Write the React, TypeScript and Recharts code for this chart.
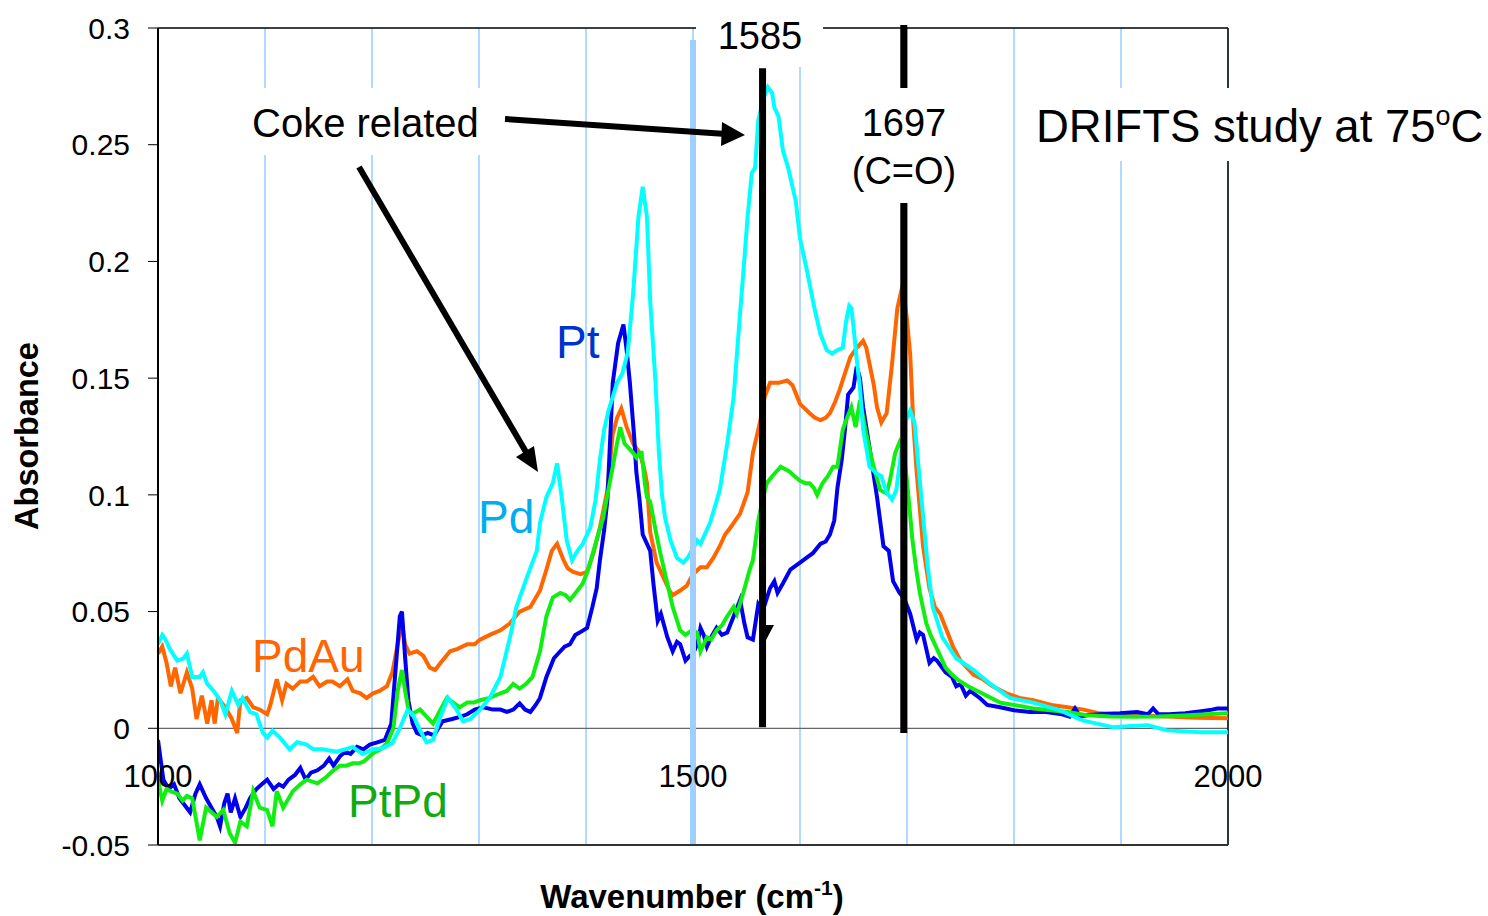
import { CartesianGrid, Line, LineChart, ReferenceLine, XAxis, YAxis } from "recharts";

const FONT = "'Liberation Sans', Arial, sans-serif";

const Y_TICKS = [-0.05, 0, 0.05, 0.1, 0.15, 0.2, 0.25, 0.3];
const GRID_TICKS = [1000, 1100, 1200, 1300, 1400, 1500, 1600, 1700, 1800, 1900, 2000];
const LABELED_TICKS = [1000, 1500, 2000];

// [wavenumber cm-1, absorbance]
const PT: [number, number][] = [
  [1000, -0.005], [1005, -0.022], [1010, -0.026], [1015, -0.024], [1020, -0.03], [1025, -0.033],
  [1030, -0.036], [1035, -0.028], [1039, -0.024], [1045, -0.03], [1050, -0.034], [1055, -0.038],
  [1058, -0.042], [1062, -0.032], [1065, -0.028], [1068, -0.036], [1072, -0.03], [1077, -0.038],
  [1082, -0.034], [1086, -0.03], [1092, -0.026], [1097, -0.024], [1102, -0.022], [1108, -0.026],
  [1113, -0.024], [1117, -0.025], [1122, -0.022], [1128, -0.02], [1133, -0.017], [1138, -0.022],
  [1143, -0.019], [1149, -0.018], [1155, -0.016], [1160, -0.013], [1164, -0.016], [1170, -0.012],
  [1175, -0.01], [1180, -0.011], [1186, -0.008], [1192, -0.009], [1198, -0.007], [1205, -0.006],
  [1212, -0.005], [1218, 0.002], [1222, 0.025], [1226, 0.048], [1228, 0.05], [1231, 0.03],
  [1234, 0.012], [1238, 0.002], [1242, -0.002], [1247, -0.003], [1252, -0.002], [1258, -0.003],
  [1266, 0.003], [1275, 0.004], [1283, 0.005], [1289, 0.006], [1296, 0.008], [1304, 0.009],
  [1313, 0.008], [1320, 0.008], [1326, 0.007], [1332, 0.008], [1338, 0.0107], [1343, 0.008],
  [1348, 0.007], [1353, 0.01], [1357, 0.013], [1363, 0.022], [1370, 0.03], [1376, 0.033],
  [1380, 0.035], [1385, 0.036], [1390, 0.04], [1394, 0.041], [1401, 0.043], [1406, 0.052],
  [1410, 0.06], [1413, 0.072], [1417, 0.085], [1420, 0.098], [1425, 0.148], [1430, 0.165],
  [1435, 0.173], [1438, 0.162], [1441, 0.148], [1445, 0.125], [1447, 0.11], [1450, 0.098],
  [1453, 0.083], [1457, 0.079], [1460, 0.076], [1463, 0.062], [1467, 0.046], [1470, 0.049],
  [1473, 0.044], [1476, 0.039], [1481, 0.033], [1485, 0.037], [1488, 0.036], [1493, 0.029],
  [1497, 0.031], [1500, 0.032], [1504, 0.036], [1507, 0.043], [1510, 0.04], [1513, 0.035],
  [1517, 0.039], [1522, 0.043], [1527, 0.04], [1532, 0.041], [1538, 0.048], [1544, 0.055],
  [1548, 0.045], [1551, 0.039], [1556, 0.038], [1561, 0.053], [1565, 0.05], [1572, 0.06],
  [1576, 0.063], [1579, 0.058], [1584, 0.062], [1591, 0.068], [1600, 0.071], [1606, 0.073],
  [1612, 0.075], [1619, 0.079], [1624, 0.08], [1628, 0.083], [1632, 0.089], [1635, 0.103],
  [1639, 0.115], [1642, 0.128], [1645, 0.143], [1650, 0.146], [1653, 0.155], [1656, 0.15],
  [1659, 0.1375], [1665, 0.12], [1672, 0.099], [1678, 0.078], [1683, 0.076], [1687, 0.063],
  [1693, 0.058], [1697, 0.056], [1703, 0.049], [1709, 0.038], [1712, 0.041], [1715, 0.04],
  [1721, 0.028], [1725, 0.03], [1728, 0.029], [1736, 0.024], [1742, 0.022], [1746, 0.018],
  [1750, 0.019], [1755, 0.014], [1759, 0.016], [1768, 0.013], [1775, 0.01], [1787, 0.009],
  [1800, 0.0077], [1815, 0.007], [1830, 0.007], [1845, 0.006], [1852, 0.005], [1857, 0.0085],
  [1862, 0.005], [1868, 0.0056], [1880, 0.006], [1899, 0.0064], [1915, 0.007], [1925, 0.006],
  [1930, 0.0085], [1935, 0.006], [1945, 0.006], [1960, 0.0064], [1975, 0.0073], [1985, 0.008],
  [1990, 0.0085], [2000, 0.0085],
];

const PTPD: [number, number][] = [
  [1000, -0.022], [1004, -0.031], [1008, -0.026], [1012, -0.027], [1018, -0.028], [1023, -0.031],
  [1027, -0.029], [1032, -0.03], [1039, -0.048], [1045, -0.034], [1050, -0.036], [1055, -0.038],
  [1061, -0.035], [1067, -0.045], [1072, -0.049], [1077, -0.04], [1083, -0.042], [1089, -0.027],
  [1095, -0.034], [1102, -0.035], [1107, -0.042], [1111, -0.027], [1117, -0.034], [1126, -0.027],
  [1133, -0.024], [1139, -0.022], [1149, -0.0236], [1157, -0.021], [1164, -0.018], [1170, -0.016],
  [1176, -0.016], [1182, -0.015], [1188, -0.015], [1193, -0.014], [1201, -0.0107], [1208, -0.009],
  [1214, -0.0064], [1220, 0], [1224, 0.016], [1228, 0.025], [1231, 0.016], [1234, 0.008],
  [1237, 0.006], [1245, 0.008], [1251, 0.005], [1257, 0.002], [1264, 0.008], [1270, 0.013],
  [1276, 0.011], [1282, 0.009], [1289, 0.011], [1295, 0.011], [1301, 0.012], [1310, 0.013],
  [1320, 0.015], [1326, 0.016], [1332, 0.019], [1338, 0.017], [1344, 0.019], [1350, 0.022],
  [1357, 0.033], [1363, 0.048], [1369, 0.056], [1376, 0.058], [1381, 0.057], [1385, 0.055],
  [1392, 0.059], [1397, 0.062], [1402, 0.068], [1407, 0.076], [1412, 0.084], [1416, 0.09],
  [1420, 0.1], [1425, 0.112], [1429, 0.122], [1432, 0.129], [1436, 0.122], [1440, 0.12],
  [1444, 0.118], [1447, 0.116], [1450, 0.118], [1452, 0.118], [1455, 0.105], [1457, 0.099],
  [1460, 0.097], [1465, 0.085], [1469, 0.076], [1476, 0.062], [1481, 0.052], [1488, 0.042],
  [1493, 0.04], [1499, 0.042], [1504, 0.041], [1507, 0.033], [1513, 0.039], [1517, 0.038],
  [1522, 0.042], [1527, 0.044], [1532, 0.048], [1538, 0.052], [1541, 0.049], [1547, 0.058],
  [1553, 0.068], [1556, 0.072], [1561, 0.089], [1565, 0.098], [1569, 0.105], [1574, 0.108],
  [1582, 0.112], [1590, 0.11], [1595, 0.108], [1600, 0.106], [1605, 0.105], [1609, 0.105],
  [1613, 0.103], [1616, 0.1], [1621, 0.105], [1626, 0.108], [1631, 0.112], [1635, 0.112],
  [1640, 0.128], [1644, 0.133], [1648, 0.1375], [1652, 0.129], [1656, 0.1405], [1662, 0.126],
  [1668, 0.1135], [1675, 0.102], [1681, 0.1006], [1684, 0.106], [1689, 0.118], [1693, 0.1225],
  [1697, 0.118], [1700, 0.106], [1705, 0.081], [1709, 0.067], [1712, 0.058], [1718, 0.045],
  [1722, 0.04], [1727, 0.035], [1731, 0.031], [1736, 0.026], [1742, 0.023], [1748, 0.0206],
  [1757, 0.018], [1770, 0.015], [1787, 0.011], [1800, 0.01], [1818, 0.0085], [1850, 0.007],
  [1868, 0.0056], [1890, 0.005], [1911, 0.0049], [1935, 0.005], [1958, 0.0055], [1980, 0.006],
  [2000, 0.0064],
];

const PDAU: [number, number][] = [
  [1000, 0.032], [1004, 0.035], [1008, 0.028], [1012, 0.018], [1016, 0.026], [1021, 0.015],
  [1027, 0.024], [1032, 0.017], [1036, 0.004], [1041, 0.014], [1046, 0.002], [1050, 0.012],
  [1053, 0.002], [1056, 0.013], [1063, 0.009], [1069, 0.004], [1074, -0.002], [1077, 0.012],
  [1083, 0.013], [1089, 0.009], [1095, 0.008], [1102, 0.006], [1105, 0.01], [1111, 0.021],
  [1116, 0.012], [1120, 0.019], [1126, 0.017], [1133, 0.02], [1139, 0.02], [1145, 0.022],
  [1151, 0.018], [1158, 0.02], [1163, 0.02], [1170, 0.018], [1177, 0.021], [1182, 0.016],
  [1189, 0.015], [1195, 0.013], [1201, 0.015], [1207, 0.016], [1214, 0.018], [1219, 0.024],
  [1224, 0.036], [1228, 0.045], [1231, 0.036], [1235, 0.032], [1242, 0.033], [1248, 0.031],
  [1254, 0.026], [1259, 0.025], [1264, 0.028], [1273, 0.033], [1280, 0.034], [1289, 0.036],
  [1296, 0.036], [1301, 0.038], [1310, 0.04], [1320, 0.042], [1329, 0.045], [1338, 0.05],
  [1348, 0.052], [1357, 0.059], [1363, 0.068], [1368, 0.076], [1373, 0.079], [1379, 0.072],
  [1383, 0.0685], [1388, 0.067], [1395, 0.066], [1401, 0.067], [1407, 0.075], [1413, 0.086],
  [1420, 0.102], [1425, 0.126], [1429, 0.133], [1433, 0.137], [1438, 0.129], [1444, 0.122],
  [1450, 0.118], [1454, 0.112], [1457, 0.105], [1460, 0.084], [1466, 0.071], [1472, 0.065],
  [1478, 0.059], [1481, 0.057], [1488, 0.059], [1494, 0.061], [1500, 0.066], [1507, 0.069],
  [1513, 0.069], [1519, 0.073], [1525, 0.078], [1530, 0.083], [1535, 0.086], [1544, 0.092],
  [1551, 0.101], [1556, 0.118], [1563, 0.132], [1567, 0.142], [1572, 0.148], [1580, 0.148],
  [1588, 0.149], [1593, 0.147], [1600, 0.139], [1609, 0.135], [1614, 0.133], [1619, 0.132],
  [1624, 0.133], [1628, 0.135], [1633, 0.14], [1637, 0.145], [1642, 0.152], [1647, 0.159],
  [1653, 0.163], [1659, 0.166], [1662, 0.163], [1665, 0.156], [1669, 0.147], [1672, 0.1375],
  [1676, 0.131], [1681, 0.135], [1686, 0.156], [1691, 0.18], [1695, 0.188], [1697, 0.186],
  [1700, 0.175], [1703, 0.16], [1706, 0.13], [1709, 0.11], [1715, 0.078], [1721, 0.06],
  [1726, 0.052], [1731, 0.049], [1737, 0.042], [1743, 0.035], [1750, 0.029], [1756, 0.026],
  [1762, 0.023], [1771, 0.021], [1780, 0.018], [1793, 0.015], [1805, 0.013], [1818, 0.012],
  [1835, 0.01], [1850, 0.009], [1865, 0.008], [1880, 0.0064], [1900, 0.006], [1920, 0.0055],
  [1943, 0.005], [1970, 0.0045], [2000, 0.0043],
];

const PD: [number, number][] = [
  [1000, 0.036], [1004, 0.04], [1007, 0.038], [1011, 0.034], [1018, 0.029], [1024, 0.03],
  [1027, 0.032], [1032, 0.022], [1039, 0.022], [1042, 0.024], [1046, 0.019], [1052, 0.016],
  [1058, 0.012], [1063, 0.006], [1069, 0.016], [1075, 0.01], [1079, 0.013], [1086, 0.007],
  [1092, 0.006], [1098, -0.002], [1102, -0.004], [1107, -0.001], [1114, -0.004], [1123, -0.009],
  [1130, -0.006], [1139, -0.007], [1145, -0.009], [1154, -0.009], [1167, -0.01], [1175, -0.009],
  [1182, -0.008], [1191, -0.011], [1201, -0.009], [1210, -0.0086], [1219, -0.0064], [1226, 0],
  [1233, 0.0077], [1238, 0.006], [1245, -0.001], [1251, -0.006], [1257, -0.005], [1264, 0.005],
  [1271, 0.013], [1279, 0.008], [1285, 0.003], [1292, 0.004], [1301, 0.008], [1310, 0.013],
  [1320, 0.022], [1329, 0.039], [1335, 0.052], [1345, 0.065], [1354, 0.076], [1357, 0.088],
  [1363, 0.099], [1369, 0.105], [1373, 0.1135], [1377, 0.1], [1382, 0.0805], [1387, 0.072],
  [1392, 0.076], [1397, 0.079], [1404, 0.086], [1409, 0.098], [1413, 0.115], [1417, 0.128],
  [1421, 0.136], [1429, 0.148], [1434, 0.152], [1439, 0.161], [1444, 0.186], [1449, 0.219],
  [1453, 0.232], [1457, 0.219], [1460, 0.183], [1465, 0.148], [1468, 0.119], [1471, 0.1],
  [1474, 0.09], [1479, 0.0805], [1485, 0.073], [1491, 0.071], [1495, 0.073], [1500, 0.077],
  [1504, 0.0805], [1507, 0.079], [1516, 0.088], [1525, 0.102], [1532, 0.122], [1538, 0.142],
  [1544, 0.178], [1547, 0.195], [1551, 0.219], [1555, 0.238], [1558, 0.24], [1561, 0.2605],
  [1566, 0.27], [1570, 0.2746], [1574, 0.272], [1576, 0.266], [1580, 0.262], [1584, 0.2476],
  [1589, 0.24], [1596, 0.226], [1600, 0.21], [1607, 0.195], [1613, 0.181], [1619, 0.169],
  [1625, 0.162], [1630, 0.1605], [1635, 0.162], [1640, 0.163], [1643, 0.174], [1646, 0.181],
  [1648, 0.18], [1650, 0.172], [1653, 0.158], [1656, 0.146], [1659, 0.128], [1665, 0.112],
  [1672, 0.109], [1676, 0.108], [1681, 0.101], [1686, 0.098], [1690, 0.102], [1695, 0.12],
  [1699, 0.132], [1703, 0.136], [1707, 0.131], [1712, 0.106], [1719, 0.071], [1724, 0.052],
  [1733, 0.039], [1746, 0.03], [1762, 0.025], [1778, 0.019], [1796, 0.013], [1818, 0.011],
  [1843, 0.0077], [1864, 0.0034], [1893, 0.0004], [1910, 0.001], [1925, 0.0013], [1943, -0.0009],
  [1974, -0.0017], [2000, -0.0017],
];

const toPoints = (rows: [number, number][]) => rows.map(([wn, abs]) => ({ wn, abs }));

function XTick({ x, y, payload }: any) {
  if (!LABELED_TICKS.includes(payload.value)) return <g />;
  return (
    <text x={x} y={y - 58} textAnchor="middle" fontSize={31} fontFamily={FONT} fill="#000">
      {payload.value}
    </text>
  );
}

function Annotations() {
  const txt = { fontFamily: FONT, fill: "#000" };
  return (
    <svg width={1488} height={916} style={{ position: "absolute", left: 0, top: 0, pointerEvents: "none" }}>
      {/* text boxes with white fill, as in the original Excel chart */}
      <rect x={240} y={88} width={252} height={67} fill="#fff" />
      <text x={252} y={137} fontSize={40} {...txt}>Coke related</text>
      <rect x={696} y={0} width={127} height={67} fill="#fff" />
      <text x={760} y={49} fontSize={38} textAnchor="middle" {...txt}>1585</text>
      <rect x={848} y={88} width={114} height={115} fill="#fff" />
      <text x={904} y={136} fontSize={38} textAnchor="middle" {...txt}>1697</text>
      <text x={904} y={184} fontSize={38} textAnchor="middle" {...txt}>(C=O)</text>
      <rect x={1030} y={88} width={458} height={73} fill="#fff" />
      <text x={1036} y={142} fontSize={45.5} {...txt}>
        DRIFTS study at 75
        <tspan fontSize={27} dy={-17}>o</tspan>
        <tspan dy={17}>C</tspan>
      </text>

      {/* arrows */}
      <line x1={505} y1={119} x2={726} y2={134} stroke="#000" strokeWidth={6} />
      <polygon points="722,122 745,135 721,146" fill="#000" />
      <line x1={359} y1={167} x2={526} y2={452} stroke="#000" strokeWidth={6} />
      <polygon points="516,457 534,446 538,472" fill="#000" />
      <polygon points="760,625 774,625 766,640" fill="#000" />

      {/* series labels */}
      <text x={556} y={358} fontSize={46} fontFamily={FONT} fill="#0033cc">Pt</text>
      <text x={478} y={533} fontSize={46} fontFamily={FONT} fill="#00aeef">Pd</text>
      <text x={252} y={672} fontSize={46} fontFamily={FONT} fill="#ff6600">PdAu</text>
      <text x={348} y={817} fontSize={46} fontFamily={FONT} fill="#11aa11">PtPd</text>

      {/* axis titles */}
      <text
        x={38}
        y={436}
        fontSize={32.5}
        fontWeight="bold"
        textAnchor="middle"
        transform="rotate(-90 38 436)"
        {...txt}
      >
        Absorbance
      </text>
      <text x={692} y={908} fontSize={33} fontWeight="bold" textAnchor="middle" {...txt}>
        Wavenumber (cm
        <tspan fontSize={21} dy={-13}>-1</tspan>
        <tspan dy={13}>)</tspan>
      </text>
    </svg>
  );
}

export default function App() {
  return (
    <div style={{ position: "absolute", left: 0, top: 0, width: 1488, height: 916, background: "#fff" }}>
      <LineChart width={1488} height={916} margin={{ top: 28, right: 260, bottom: 41, left: 98 }}>
        <CartesianGrid vertical horizontal={false} stroke="#99ccff" strokeWidth={1.5} />
        <XAxis
          dataKey="wn"
          type="number"
          domain={[1000, 2000]}
          ticks={GRID_TICKS}
          interval={0}
          allowDataOverflow
          height={30}
          tickSize={0}
          tickMargin={0}
          tickLine={false}
          axisLine={{ stroke: "#333", strokeWidth: 2 }}
          tick={<XTick />}
        />
        <YAxis
          type="number"
          domain={[-0.05, 0.3]}
          ticks={Y_TICKS}
          interval={0}
          allowDataOverflow
          width={60}
          tickSize={10}
          tickMargin={18}
          axisLine={{ stroke: "#000", strokeWidth: 2 }}
          tickLine={{ stroke: "#000" }}
          tick={{ fontSize: 30, fill: "#000", fontFamily: FONT }}
        />
        <ReferenceLine y={0} stroke="#666" strokeWidth={1.2} />
        <ReferenceLine y={0.3} stroke="#000" strokeWidth={1.5} />
        <ReferenceLine x={2000} stroke="#000" strokeWidth={1.5} />
        <Line data={toPoints(PDAU)} dataKey="abs" type="linear" stroke="#ff6600" strokeWidth={4} dot={false} isAnimationActive={false} />
        <Line data={toPoints(PT)} dataKey="abs" type="linear" stroke="#0000ee" strokeWidth={4} dot={false} isAnimationActive={false} />
        <Line data={toPoints(PTPD)} dataKey="abs" type="linear" stroke="#11ee11" strokeWidth={4} dot={false} isAnimationActive={false} />
        <Line data={toPoints(PD)} dataKey="abs" type="linear" stroke="#00ffff" strokeWidth={4} dot={false} isAnimationActive={false} />
        <ReferenceLine
          segment={[{ x: 1500, y: 0.2949 }, { x: 1500, y: -0.05 }]}
          stroke="#9fcfff"
          strokeWidth={6}
        />
        <ReferenceLine
          segment={[{ x: 1565, y: 0.2828 }, { x: 1565, y: 0.0004 }]}
          stroke="#000"
          strokeWidth={7}
        />
        <ReferenceLine
          segment={[{ x: 1697, y: 0.3013 }, { x: 1697, y: -0.002 }]}
          stroke="#000"
          strokeWidth={7}
          ifOverflow="visible"
        />
      </LineChart>
      <Annotations />
    </div>
  );
}
